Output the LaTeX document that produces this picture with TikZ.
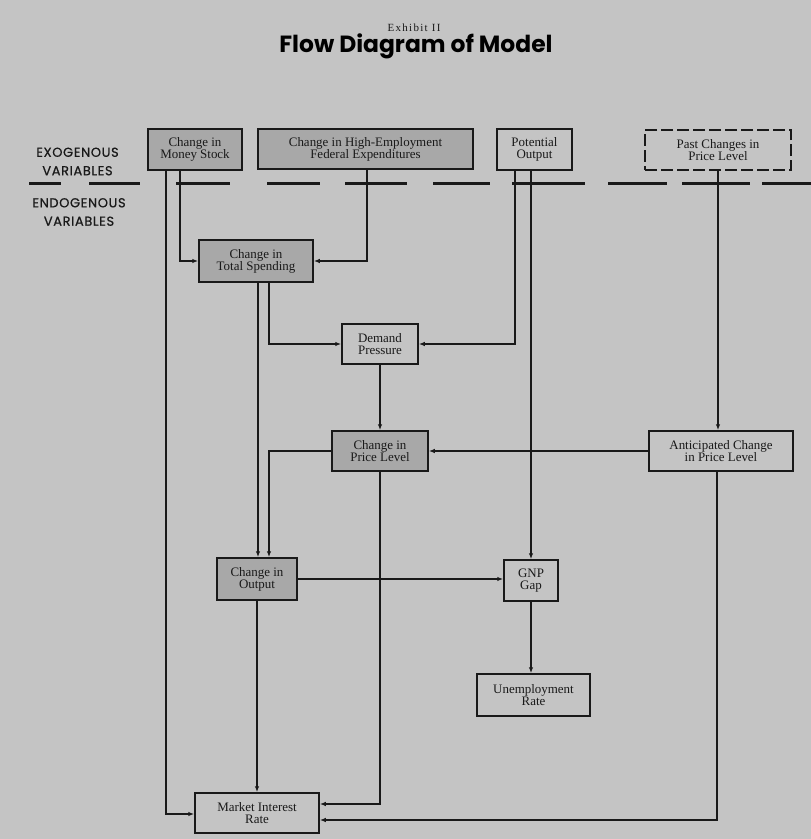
\documentclass[tikz,border=0pt]{standalone}
\usepackage{fontspec}
\setmainfont{Liberation Serif}
\newfontfamily\titlefont{Poppins}
\newfontfamily\exhfont[LetterSpace=12]{Liberation Serif}
\newfontfamily\sidefont[LetterSpace=5,FakeBold=0.6]{Poppins}
\usetikzlibrary{arrows.meta}
\definecolor{bgc}{gray}{0.77}
\definecolor{shadec}{gray}{0.66}
\definecolor{inkc}{gray}{0.1}
\tikzset{
  varbox/.style={draw=inkc, line width=1.5bp, fill=bgc, inner sep=0pt, align=center,
    text=inkc, font=\fontsize{13}{12}\selectfont, minimum width=#1},
  shaded/.style={fill=shadec},
  arr/.style={draw=inkc, line width=1.6bp, -{Latex[length=6bp,width=4.5bp]}},
  sep/.style={draw=inkc, line width=3bp},
  sidelabel/.style={text=inkc, font=\sidefont\fontsize{13}{18.5}\selectfont, align=center}
}
\begin{document}
\begin{tikzpicture}[x=1bp,y=-1bp]
\useasboundingbox (0,0) rectangle (811,839);
\fill[bgc] (0,0) rectangle (811,839);

% titles
\node[text=inkc, font=\exhfont\fontsize{11}{12}\selectfont] (exh) at (414,28) {Exhibit II};
\node[text=black, font=\titlefont\bfseries\fontsize{23.5}{25}\selectfont] (title) at (416,46) {Flow Diagram of Model};

% side labels
\node[sidelabel] (exo) at (77.5,161.5) {EXOGENOUS\\VARIABLES};
\node[sidelabel] (endo) at (79,212) {ENDOGENOUS\\VARIABLES};

% separator
\foreach \a/\b in {29/61,89/140,176/230,267/320,345/407,433/490,512/585,608/667,682/750,762/811}
  \draw[sep] (\a,183) -- (\b,183);

% boxes
\node[varbox=94bp, shaded, minimum height=41bp] (MS) at (195,149.5) {Change in\\Money Stock};
\node[varbox=215bp, shaded, minimum height=40bp] (HE) at (365.5,149) {Change in High-Employment\\Federal Expenditures};
\node[varbox=75bp, minimum height=41bp] (PO) at (534.5,149.5) {Potential\\Output};
\node[varbox=146bp, minimum height=40bp, dash pattern=on 12bp off 4bp] (PC) at (718,150) {Past Changes in\\Price Level};
\node[varbox=114bp, shaded, minimum height=42bp] (TS) at (256,261) {Change in\\Total Spending};
\node[varbox=76bp, minimum height=40bp] (DP) at (380,344) {Demand\\Pressure};
\node[varbox=96bp, shaded, minimum height=40bp] (CPL) at (380,451) {Change in\\Price Level};
\node[varbox=144bp, minimum height=40bp] (AC) at (721,451) {Anticipated Change\\in Price Level};
\node[varbox=80bp, shaded, minimum height=42bp] (CO) at (257,579) {Change in\\Output};
\node[varbox=54bp, minimum height=41bp] (GNP) at (531,580.5) {GNP\\Gap};
\node[varbox=113bp, minimum height=42bp] (UR) at (533.5,695) {Unemployment\\Rate};
\node[varbox=124bp, minimum height=40bp] (MIR) at (257,813) {Market Interest\\Rate};

% connectors
\draw[arr] ([xshift=-29bp]MS.south) |- ([yshift=-1bp]MIR.west);
\draw[arr] ([xshift=-15bp]MS.south) |- (TS.west);
\draw[arr] ([xshift=1.5bp]HE.south) |- (TS.east);
\draw[arr] ([xshift=13bp]TS.south) |- (DP.west);
\draw[arr] ([xshift=2bp]TS.south) -- ([xshift=1bp]CO.north);
\draw[arr] ([xshift=-19.5bp]PO.south) |- (DP.east);
\draw[arr] (PO.south -| GNP.north) -- (GNP.north);
\draw[arr] (PC.south) -- (PC.south |- AC.north);
\draw[arr] (DP.south) -- (CPL.north);
\draw[arr] (AC.west) -- (AC.west -| CPL.east);
\draw[arr] (CPL.west) -| ([xshift=12bp]CO.north);
\draw[arr] (CPL.south) |- ([yshift=9bp]MIR.east);
\draw[arr] ([xshift=-4bp]AC.south) |- ([yshift=-7bp]MIR.east);
\draw[arr] (CO.east) -- (CO.east -| GNP.west);
\draw[arr] (CO.south) -- (CO.south |- MIR.north);
\draw[arr] (GNP.south) -- (GNP.south |- UR.north);
\end{tikzpicture}
\end{document}
